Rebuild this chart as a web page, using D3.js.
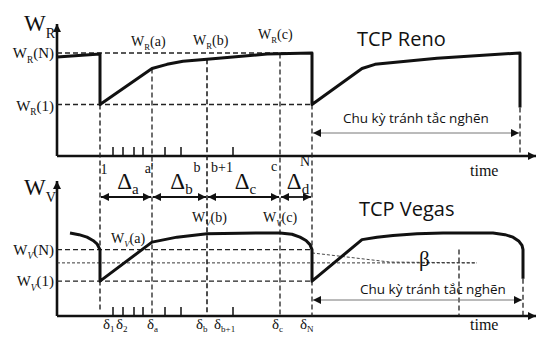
<!DOCTYPE html>
<html>
<head>
<meta charset="utf-8">
<script src="https://cdn.jsdelivr.net/npm/d3@7"></script>
<style>
  body { margin: 0; background: #fff; }
  text { fill: #111; }
</style>
</head>
<body>
<svg id="chart" width="536" height="338"></svg>
<script>
// marked rounds on the time axis: 1, a', b, c, N
const markTimes = [43, 95, 150, 223, 255];
const markLabels = ["1", "a'", "b", "c", "N"];
const deltaLabels = ["a", "b", "c", "d"];
const tickTimes = [56, 66, 77, 86, 108, 124, 176];

// TCP Reno window (0..100 = W_R(N))
const renoT = [0, 43, 43, 95, 110, 126, 150, 210, 255, 255, 305, 318, 380, 463, 463];
const renoW = [96, 99, 50, 85, 89, 92, 94, 99, 100, 50, 85, 89, 95, 100, 47];
const renoLevels = [100, 50];            // W_R(N), W_R(1)
const renoCycle = [255, 463];

// TCP Vegas window
const vegasT = [13, 22, 30, 36, 40, 43, 43, 95, 120, 150, 200, 223, 235, 243, 249, 253, 255, 255,
                305, 320, 336, 360, 386, 436, 448, 456, 462, 465, 466, 466];
const vegasW = [100, 98, 95, 91, 87, 80, 42, 89, 95, 99, 100, 100, 98.5, 95, 91, 86, 80, 42,
                92, 95, 97, 99, 100, 100, 98, 95, 90, 85, 80, 45];
const vegasLevels = [80, 42];            // W_V(N), W_V(1)
const betaLevel = 64;
const betaT = [255, 333, 420];
const betaW = [76, 65, 64];
const vegasCycle = [255, 466];
const vegasMark = 402;

const svg = d3.select("#chart");
const serif = "Liberation Serif";
const sans = "Open Sans";

const x = d3.scaleLinear().domain([0, 480]).range([57, 537]);
const yR = d3.scaleLinear().domain([0, 100]).range([156, 53]);
const yV = d3.scaleLinear().domain([0, 100]).range([316, 233]);

const defs = svg.append("defs");
function marker(id, path) {
  defs.append("marker")
    .attr("id", id).attr("viewBox", "0 0 10 10")
    .attr("refX", 10).attr("refY", 5)
    .attr("markerUnits", "userSpaceOnUse")
    .attr("markerWidth", 9).attr("markerHeight", 8)
    .attr("orient", "auto-start-reverse")
    .append("path").attr("d", path).attr("fill", "#111");
}
marker("head", "M0,0L10,5L0,10Z");

function dashed(x1, y1, x2, y2, w, dash, col) {
  svg.append("line")
    .attr("x1", x1).attr("y1", y1).attr("x2", x2).attr("y2", y2)
    .attr("stroke", col || "#222").attr("stroke-width", w || 1.3)
    .attr("stroke-dasharray", dash || "5,3");
}

// W with subscript, e.g. W_R(N)
function wLabel(px, py, sub, rest, size, anchor, italicSub) {
  const t = svg.append("text")
    .attr("x", px).attr("y", py)
    .attr("font-family", serif).attr("font-size", size)
    .attr("text-anchor", anchor || "start");
  t.append("tspan").text("W");
  t.append("tspan").attr("dy", size * 0.3).attr("font-size", size * 0.62)
    .attr("font-style", italicSub ? "italic" : null).text(sub);
  if (rest) t.append("tspan").attr("dy", -size * 0.3).text(rest);
  return t;
}

function panel(bottomY, topY) {
  // y axis with arrow
  svg.append("line")
    .attr("x1", x(0)).attr("y1", bottomY).attr("x2", x(0)).attr("y2", topY)
    .attr("stroke", "#111").attr("stroke-width", 2.6)
    .attr("marker-end", "url(#head)");
  // x axis with arrow
  svg.append("line")
    .attr("x1", x(0)).attr("y1", bottomY).attr("x2", 536).attr("y2", bottomY)
    .attr("stroke", "#111").attr("stroke-width", 2.6)
    .attr("marker-end", "url(#head)");
  svg.selectAll(null).data(tickTimes).enter().append("line")
    .attr("x1", d => x(d)).attr("x2", d => x(d))
    .attr("y1", bottomY).attr("y2", bottomY - 9)
    .attr("stroke", "#111").attr("stroke-width", 1.5);
}

panel(yR(0), 24);
panel(yV(0), 181);

// horizontal guides
renoLevels.forEach(v => dashed(x(0), yR(v), x(markTimes[4]), yR(v), 1.3));
vegasLevels.forEach(v => dashed(x(0), yV(v), x(markTimes[4]), yV(v), 1.3));
dashed(x(0), yV(betaLevel), x(betaT[2]), yV(betaLevel), 0.9, "3,2");
svg.append("path")
  .attr("d", d3.line().x((d, i) => x(betaT[i])).y(d => yV(d))(betaW))
  .attr("fill", "none").attr("stroke", "#333").attr("stroke-width", 0.9)
  .attr("stroke-dasharray", "3,2");

// vertical guides through both panels
dashed(x(markTimes[0]), yR(50), x(markTimes[0]), yV(6), 1.4);
dashed(x(markTimes[1]), yR(85), x(markTimes[1]), yV(0), 1.3);
dashed(x(markTimes[2]), yR(94), x(markTimes[2]), yV(0), 1.6);
dashed(x(markTimes[3]), yR(99.5), x(markTimes[3]), yV(0), 1.3);
dashed(x(markTimes[4]), yR(50), x(markTimes[4]), yV(0), 1.3);
dashed(x(renoCycle[1]), yR(47), x(renoCycle[1]), yR(0), 1.3);
dashed(x(vegasMark), yV(80), x(vegasMark), yV(0), 1.3);
dashed(x(vegasCycle[1]), yV(45), x(vegasCycle[1]), yV(0), 1.3);

// window curves
const lineR = d3.line().x((d, i) => x(renoT[i])).y(d => yR(d));
svg.append("path").attr("d", lineR(renoW))
  .attr("fill", "none").attr("stroke", "#111").attr("stroke-width", 3)
  .attr("stroke-linejoin", "round");
const lineV = d3.line().x((d, i) => x(vegasT[i])).y(d => yV(d));
svg.append("path").attr("d", lineV(vegasW))
  .attr("fill", "none").attr("stroke", "#111").attr("stroke-width", 3)
  .attr("stroke-linejoin", "round");

// congestion avoidance cycle arrows
function cycleArrow(t0, t1, py) {
  svg.append("line")
    .attr("x1", x(t0) + 1).attr("x2", x(t1) - 1).attr("y1", py).attr("y2", py)
    .attr("stroke", "#777").attr("stroke-width", 1)
    .attr("marker-start", "url(#head)").attr("marker-end", "url(#head)");
}
cycleArrow(renoCycle[0], renoCycle[1], 133);
cycleArrow(vegasCycle[0], vegasCycle[1], 300);
svg.append("text").attr("x", 343).attr("y", 123)
  .attr("font-family", sans).attr("font-size", 13.5).text("Chu kỳ tránh tắc nghẽn");
svg.append("text").attr("x", 360).attr("y", 294)
  .attr("font-family", sans).attr("font-size", 13.5).text("Chu kỳ tránh tắc nghẽn");

// delta intervals
d3.pairs(markTimes).forEach(([a, b], i) => {
  svg.append("line")
    .attr("x1", x(a) + 1).attr("x2", x(b) - 1).attr("y1", 197).attr("y2", 197)
    .attr("stroke", "#111").attr("stroke-width", 1.8)
    .attr("marker-start", "url(#head)").attr("marker-end", "url(#head)");
  const t = svg.append("text")
    .attr("x", (x(a) + x(b)) / 2 + 2).attr("y", 189)
    .attr("font-family", serif).attr("font-size", 23).attr("text-anchor", "middle");
  t.append("tspan").text("Δ");
  t.append("tspan").attr("dy", 5).attr("font-size", 15).text(deltaLabels[i]);
});

// labels under the top time axis
const markDx = [4, -3, -10, -6, -7];
const markY = [174, 173, 172, 171, 166];
markTimes.forEach((t, i) => {
  svg.append("text").attr("x", x(t) + markDx[i]).attr("y", markY[i])
    .attr("font-family", serif).attr("font-size", 14)
    .attr("text-anchor", "middle").text(markLabels[i]);
});
svg.append("text").attr("x", x(markTimes[2]) + 4).attr("y", 172)
  .attr("font-family", serif).attr("font-size", 14).text("b+1");

// delta (RTT) labels under the bottom time axis
const deltaX = [103, 116, 147, 196, 214, 272, 300];
const deltaSub = ["1", "2", "a", "b", "b+1", "c", "N"];
deltaX.forEach((px, i) => {
  const g = svg.append("text").attr("x", px).attr("y", 329)
    .attr("font-family", serif).attr("font-size", 15);
  g.append("tspan").text("δ");
  g.append("tspan").attr("dy", 3).attr("font-size", 9).text(deltaSub[i]);
});

// axis names
wLabel(24, 31, "R", null, 23);
wLabel(24, 195, "V", null, 23);
svg.append("text").attr("x", 470).attr("y", 176)
  .attr("font-family", serif).attr("font-size", 16).text("time");
svg.append("text").attr("x", 470).attr("y", 330)
  .attr("font-family", serif).attr("font-size", 16).text("time");

// window level labels
wLabel(54, yR(100) + 5, "R", "(N)", 15, "end");
wLabel(54, yR(50) + 6, "R", "(1)", 15, "end");
wLabel(54, yV(80) + 5, "V", "(N)", 15, "end", true);
wLabel(54, yV(42) + 5, "V", "(1)", 15, "end", true);

wLabel(131, 46, "R", "(a)", 14);
wLabel(193, 45, "R", "(b)", 14);
wLabel(258, 39, "R", "(c)", 14);
wLabel(111, 243, "V", "(a)", 14, null, true);
wLabel(192, 222, "V", "(b)", 14, null, true);
wLabel(263, 222, "V", "(c)", 14, null, true);

svg.append("text").attr("x", 357).attr("y", 46)
  .attr("font-family", sans).attr("font-size", 20).text("TCP Reno");
svg.append("text").attr("x", 359).attr("y", 216)
  .attr("font-family", sans).attr("font-size", 20).text("TCP Vegas");
svg.append("text").attr("x", 419).attr("y", 266)
  .attr("font-family", serif).attr("font-size", 21).text("β");
</script>
</body>
</html>
